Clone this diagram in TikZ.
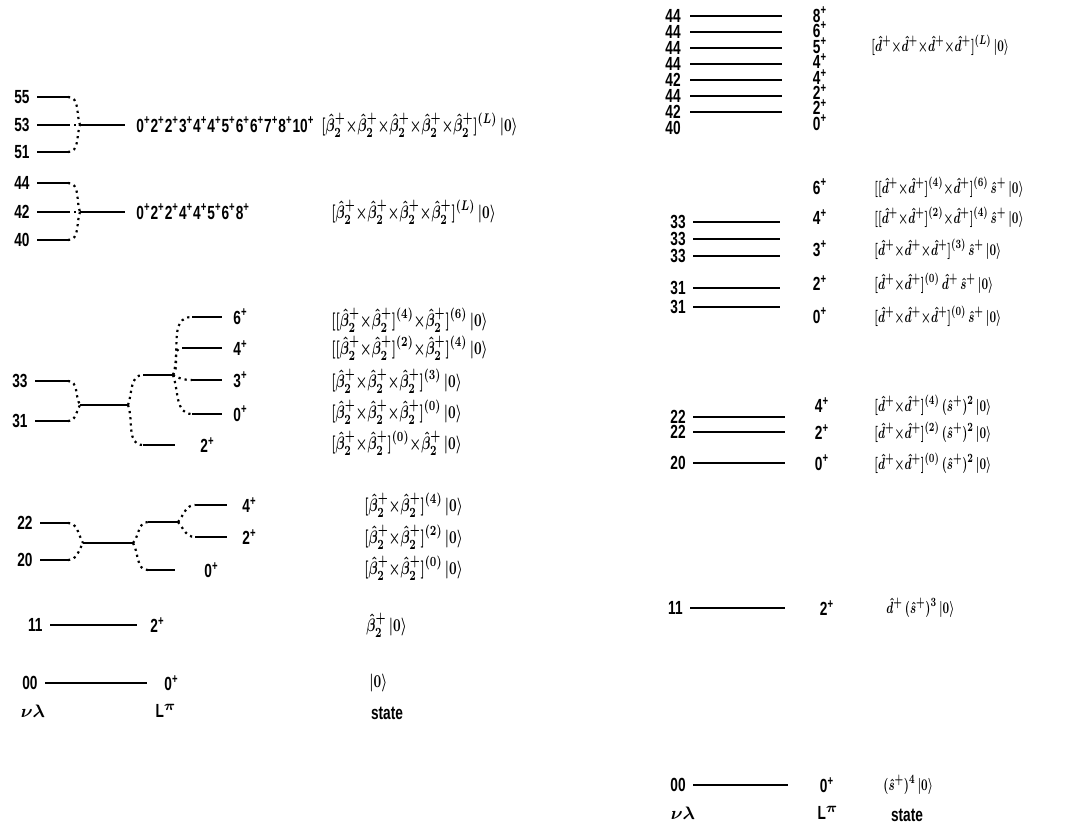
\documentclass[tikz,border=0pt]{standalone}
\usepackage{fontspec}
\setmainfont{Liberation Sans}[FakeStretch=0.72]
\usetikzlibrary{positioning}
\newcommand{\spin}[1]{#1\textsuperscript{+}}
\newcommand{\bop}{\hat{\beta}_2^{+}}
\newcommand{\dop}{\hat{d}^{+}}
\newcommand{\sop}{\hat{s}^{+}}
\newcommand{\vac}{\,|0\rangle}
\newcommand{\tms}{{\times}}
\newcommand{\condl}[1]{\scalebox{0.72}[1]{#1}}
\newcommand{\condr}[1]{\scalebox{0.62}[0.9]{#1}}
\begin{document}
\begin{tikzpicture}
   [x=0.5pt, y=-0.5pt,
    lbl/.style={inner sep=0.5pt, font=\fontsize{9.5}{10}\selectfont\bfseries\boldmath},
    st/.style={lbl, anchor=west},
    lev/.style={line width=1.1pt},
    lnk/.style={line width=1.1pt, dotted}]
   \useasboundingbox (0,0) rectangle (1079,831);

   % left: nu lambda = 5x
   \coordinate (s55) at (37,97);  \coordinate (e55) at (68,97);
   \coordinate (s53) at (37,125); \coordinate (e53) at (68,125);
   \coordinate (s51) at (37,152); \coordinate (e51) at (68,152);
   \coordinate (j5) at (80,125);  \coordinate (m5) at (125,125);
   \node[lbl, left=3pt of s55] (n55) {55};
   \node[lbl, left=3pt of s53] (n53) {53};
   \node[lbl, left=3pt of s51] (n51) {51};
   \draw[lev] (s55) -- (e55);
   \draw[lev] (s53) -- (e53);
   \draw[lev] (s51) -- (e51);
   \draw[lnk] (e55) to[out=0, in=110] (j5);
   \draw[lnk] (e53) -- (j5);
   \draw[lnk] (e51) to[out=0, in=-110] (j5);
   \draw[lev] (j5) -- (m5);
   \node[lbl, right=5pt of m5] (L5) {\spin{0}\spin{2}\spin{2}\spin{3}\spin{4}\spin{4}\spin{5}\spin{6}\spin{6}\spin{7}\spin{8}\spin{10}};
   \node[st] (st5) at (320,125) {\condl{$[\bop\tms\bop\tms\bop\tms\bop\tms\bop]^{(L)}\vac$}};

   % left: nu lambda = 4x
   \coordinate (s44) at (37,183); \coordinate (e44) at (68,183);
   \coordinate (s42) at (37,212); \coordinate (e42) at (68,212);
   \coordinate (s40) at (37,240); \coordinate (e40) at (68,240);
   \coordinate (j4) at (80,212);  \coordinate (m4) at (125,212);
   \node[lbl, left=3pt of s44] (n44) {44};
   \node[lbl, left=3pt of s42] (n42) {42};
   \node[lbl, left=3pt of s40] (n40) {40};
   \draw[lev] (s44) -- (e44);
   \draw[lev] (s42) -- (e42);
   \draw[lev] (s40) -- (e40);
   \draw[lnk] (e44) to[out=0, in=110] (j4);
   \draw[lnk] (e42) -- (j4);
   \draw[lnk] (e40) to[out=0, in=-110] (j4);
   \draw[lev] (j4) -- (m4);
   \node[lbl, right=5pt of m4] (L4) {\spin{0}\spin{2}\spin{2}\spin{4}\spin{4}\spin{5}\spin{6}\spin{8}};
   \node[st] (st4) at (330,212) {\condl{$[\bop\tms\bop\tms\bop\tms\bop]^{(L)}\vac$}};

   % left: nu lambda = 3x
   \coordinate (s33) at (35,381); \coordinate (e33) at (68,381);
   \coordinate (s31) at (35,421); \coordinate (e31) at (68,421);
   \coordinate (j3) at (80,405);  \coordinate (m3) at (128,405);
   \coordinate (su3) at (143,375); \coordinate (eu3) at (173,375);
   \coordinate (sd3) at (143,445); \coordinate (ed3) at (175,445);
   \coordinate (s36) at (192,317); \coordinate (e36) at (222,317);
   \coordinate (s34) at (182,348); \coordinate (e34) at (222,348);
   \coordinate (s3t) at (192,380); \coordinate (e3t) at (222,380);
   \coordinate (s30) at (192,414); \coordinate (e30) at (222,414);
   \node[lbl, left=3pt of s33] (n33) {33};
   \node[lbl, left=3pt of s31] (n31) {31};
   \draw[lev] (s33) -- (e33);
   \draw[lev] (s31) -- (e31);
   \draw[lnk] (e33) to[out=0, in=120] (j3);
   \draw[lnk] (e31) to[out=0, in=-120] (j3);
   \draw[lev] (j3) -- (m3);
   \draw[lnk] (m3) to[out=70, in=180] (su3);
   \draw[lnk] (m3) to[out=-70, in=180] (sd3);
   \draw[lev] (su3) -- (eu3);
   \draw[lev] (sd3) -- (ed3);
   \draw[lnk] (eu3) to[out=70, in=180] (s36);
   \draw[lnk] (eu3) to[out=50, in=180] (s34);
   \draw[lnk] (eu3) to[out=-30, in=180] (s3t);
   \draw[lnk] (eu3) to[out=-70, in=180] (s30);
   \draw[lev] (s36) -- (e36);
   \draw[lev] (s34) -- (e34);
   \draw[lev] (s3t) -- (e3t);
   \draw[lev] (s30) -- (e30);
   \node[lbl, right=5pt of e36] (L36) {\spin{6}};
   \node[lbl, right=5pt of e34] (L34) {\spin{4}};
   \node[lbl, right=5pt of e3t] (L3t) {\spin{3}};
   \node[lbl, right=5pt of e30] (L30) {\spin{0}};
   \node[lbl, right=12pt of ed3] (L32) {\spin{2}};
   \node[st] (st36) at (330,320) {\condl{$[[\bop\tms\bop]^{(4)}\tms\bop]^{(6)}\vac$}};
   \node[st] (st34) at (330,348) {\condl{$[[\bop\tms\bop]^{(2)}\tms\bop]^{(4)}\vac$}};
   \node[st] (st3t) at (330,381) {\condl{$[\bop\tms\bop\tms\bop]^{(3)}\vac$}};
   \node[st] (st30) at (330,412) {\condl{$[\bop\tms\bop\tms\bop]^{(0)}\vac$}};
   \node[st] (st32) at (330,443) {\condl{$[\bop\tms\bop]^{(0)}\tms\bop\vac$}};

   % left: nu lambda = 2x
   \coordinate (s22) at (40,523); \coordinate (e22) at (68,523);
   \coordinate (s20) at (40,560); \coordinate (e20) at (68,560);
   \coordinate (j2) at (83,543);  \coordinate (m2) at (133,543);
   \coordinate (su2) at (148,522); \coordinate (eu2) at (178,522);
   \coordinate (sd2) at (148,570); \coordinate (ed2) at (175,570);
   \coordinate (s24) at (195,505); \coordinate (e24) at (227,505);
   \coordinate (s2t) at (195,537); \coordinate (e2t) at (227,537);
   \node[lbl, left=3pt of s22] (n22) {22};
   \node[lbl, left=3pt of s20] (n20) {20};
   \draw[lev] (s22) -- (e22);
   \draw[lev] (s20) -- (e20);
   \draw[lnk] (e22) to[out=0, in=120] (j2);
   \draw[lnk] (e20) to[out=0, in=-120] (j2);
   \draw[lev] (j2) -- (m2);
   \draw[lnk] (m2) to[out=50, in=180] (su2);
   \draw[lnk] (m2) to[out=-60, in=180] (sd2);
   \draw[lev] (su2) -- (eu2);
   \draw[lev] (sd2) -- (ed2);
   \draw[lnk] (eu2) to[out=50, in=180] (s24);
   \draw[lnk] (eu2) to[out=-50, in=180] (s2t);
   \draw[lev] (s24) -- (e24);
   \draw[lev] (s2t) -- (e2t);
   \node[lbl, right=7pt of e24] (L24) {\spin{4}};
   \node[lbl, right=7pt of e2t] (L2t) {\spin{2}};
   \node[lbl, right=14pt of ed2] (L20) {\spin{0}};
   \node[st] (st24) at (363,505) {\condl{$[\bop\tms\bop]^{(4)}\vac$}};
   \node[st] (st2t) at (363,537) {\condl{$[\bop\tms\bop]^{(2)}\vac$}};
   \node[st] (st20) at (363,568) {\condl{$[\bop\tms\bop]^{(0)}\vac$}};

   % left: 11 and 00
   \coordinate (s11) at (50,625); \coordinate (e11) at (137,625);
   \coordinate (s00) at (45,683); \coordinate (e00) at (147,683);
   \node[lbl, left=3pt of s11] (n11) {11};
   \node[lbl, left=3pt of s00] (n00) {00};
   \draw[lev] (s11) -- (e11);
   \draw[lev] (s00) -- (e00);
   \node[lbl, right=6pt of e11] (L11) {\spin{2}};
   \node[lbl, right=8pt of e00] (L00) {\spin{0}};
   \node[st] (st11) at (365,625) {\condl{$\bop\vac$}};
   \node[st] (st00) at (368,683) {\condl{$|0\rangle$}};
   \node[lbl] (hnl) at (33,711) {$\nu\lambda$};
   \node[lbl] (hlp) at (166,711) {L$^{\pi}$};
   \node[lbl] (hst) at (387,713) {state};

   % right: nd = 4, no s boson
   \coordinate (sa1) at (690,16);  \coordinate (ea1) at (782,16);
   \coordinate (sa2) at (690,32);  \coordinate (ea2) at (782,32);
   \coordinate (sa3) at (690,48);  \coordinate (ea3) at (782,48);
   \coordinate (sa4) at (690,64);  \coordinate (ea4) at (782,64);
   \coordinate (sa5) at (690,80);  \coordinate (ea5) at (782,80);
   \coordinate (sa6) at (690,96);  \coordinate (ea6) at (782,96);
   \coordinate (sa7) at (690,112); \coordinate (ea7) at (782,112);
   \coordinate (sa8) at (690,128);
   \node[lbl, left=4pt of sa1] (na1) {44};
   \node[lbl, left=4pt of sa2] (na2) {44};
   \node[lbl, left=4pt of sa3] (na3) {44};
   \node[lbl, left=4pt of sa4] (na4) {44};
   \node[lbl, left=4pt of sa5] (na5) {42};
   \node[lbl, left=4pt of sa6] (na6) {44};
   \node[lbl, left=4pt of sa7] (na7) {42};
   \node[lbl, left=4pt of sa8] (na8) {40};
   \draw[lev] (sa1) -- (ea1);
   \draw[lev] (sa2) -- (ea2);
   \draw[lev] (sa3) -- (ea3);
   \draw[lev] (sa4) -- (ea4);
   \draw[lev] (sa5) -- (ea5);
   \draw[lev] (sa6) -- (ea6);
   \draw[lev] (sa7) -- (ea7);
   \node[lbl] (La1) at (820,15)  {\spin{8}};
   \node[lbl] (La2) at (820,30)  {\spin{6}};
   \node[lbl] (La3) at (820,46)  {\spin{5}};
   \node[lbl] (La4) at (820,61)  {\spin{4}};
   \node[lbl] (La5) at (820,77)  {\spin{4}};
   \node[lbl] (La6) at (820,92)  {\spin{2}};
   \node[lbl] (La7) at (820,107) {\spin{2}};
   \node[lbl] (La8) at (820,123) {\spin{0}};
   \node[st] (sta) at (870,45) {\condr{$[\dop\tms\dop\tms\dop\tms\dop]^{(L)}\vac$}};

   % right: nd = 3
   \coordinate (sb1) at (693,222); \coordinate (eb1) at (780,222);
   \coordinate (sb2) at (693,239); \coordinate (eb2) at (780,239);
   \coordinate (sb3) at (693,256); \coordinate (eb3) at (780,256);
   \coordinate (sb4) at (693,288); \coordinate (eb4) at (780,288);
   \coordinate (sb5) at (693,307); \coordinate (eb5) at (780,307);
   \node[lbl, left=3pt of sb1] (nb1) {33};
   \node[lbl, left=3pt of sb2] (nb2) {33};
   \node[lbl, left=3pt of sb3] (nb3) {33};
   \node[lbl, left=3pt of sb4] (nb4) {31};
   \node[lbl, left=3pt of sb5] (nb5) {31};
   \draw[lev] (sb1) -- (eb1);
   \draw[lev] (sb2) -- (eb2);
   \draw[lev] (sb3) -- (eb3);
   \draw[lev] (sb4) -- (eb4);
   \draw[lev] (sb5) -- (eb5);
   \node[lbl] (Lb1) at (820,187) {\spin{6}};
   \node[lbl] (Lb2) at (820,217) {\spin{4}};
   \node[lbl] (Lb3) at (820,249) {\spin{3}};
   \node[lbl] (Lb4) at (820,283) {\spin{2}};
   \node[lbl] (Lb5) at (820,316) {\spin{0}};
   \node[st] (stb1) at (873,187) {\condr{$[[\dop\tms\dop]^{(4)}\tms\dop]^{(6)}\,\sop\vac$}};
   \node[st] (stb2) at (873,217) {\condr{$[[\dop\tms\dop]^{(2)}\tms\dop]^{(4)}\,\sop\vac$}};
   \node[st] (stb3) at (873,249) {\condr{$[\dop\tms\dop\tms\dop]^{(3)}\,\sop\vac$}};
   \node[st] (stb4) at (873,283) {\condr{$[\dop\tms\dop]^{(0)}\,\dop\,\sop\vac$}};
   \node[st] (stb5) at (873,316) {\condr{$[\dop\tms\dop\tms\dop]^{(0)}\,\sop\vac$}};

   % right: nd = 2
   \coordinate (sc1) at (693,417); \coordinate (ec1) at (785,417);
   \coordinate (sc2) at (693,432); \coordinate (ec2) at (785,432);
   \coordinate (sc3) at (693,463); \coordinate (ec3) at (785,463);
   \node[lbl, left=3pt of sc1] (nc1) {22};
   \node[lbl, left=3pt of sc2] (nc2) {22};
   \node[lbl, left=3pt of sc3] (nc3) {20};
   \draw[lev] (sc1) -- (ec1);
   \draw[lev] (sc2) -- (ec2);
   \draw[lev] (sc3) -- (ec3);
   \node[lbl] (Lc1) at (822,405) {\spin{4}};
   \node[lbl] (Lc2) at (822,432) {\spin{2}};
   \node[lbl] (Lc3) at (822,463) {\spin{0}};
   \node[st] (stc1) at (873,405) {\condr{$[\dop\tms\dop]^{(4)}\,(\sop)^2\vac$}};
   \node[st] (stc2) at (873,432) {\condr{$[\dop\tms\dop]^{(2)}\,(\sop)^2\vac$}};
   \node[st] (stc3) at (873,463) {\condr{$[\dop\tms\dop]^{(0)}\,(\sop)^2\vac$}};

   % right: 11 and 00
   \coordinate (sd1) at (690,608); \coordinate (ed1) at (785,608);
   \coordinate (se1) at (693,785); \coordinate (ee1) at (788,785);
   \node[lbl, left=3pt of sd1] (nd1) {11};
   \node[lbl, left=3pt of se1] (ne1) {00};
   \draw[lev] (sd1) -- (ed1);
   \draw[lev] (se1) -- (ee1);
   \node[lbl] (Ld1) at (827,608) {\spin{2}};
   \node[lbl] (Le1) at (827,785) {\spin{0}};
   \node[st] (std1) at (885,608) {\condr{$\dop\,(\sop)^3\vac$}};
   \node[st] (ste1) at (882,785) {\condr{$(\sop)^4\vac$}};
   \node[lbl] (rnl) at (683,813) {$\nu\lambda$};
   \node[lbl] (rlp) at (828,813) {L$^{\pi}$};
   \node[lbl] (rst) at (907,815) {state};
\end{tikzpicture}
\end{document}
